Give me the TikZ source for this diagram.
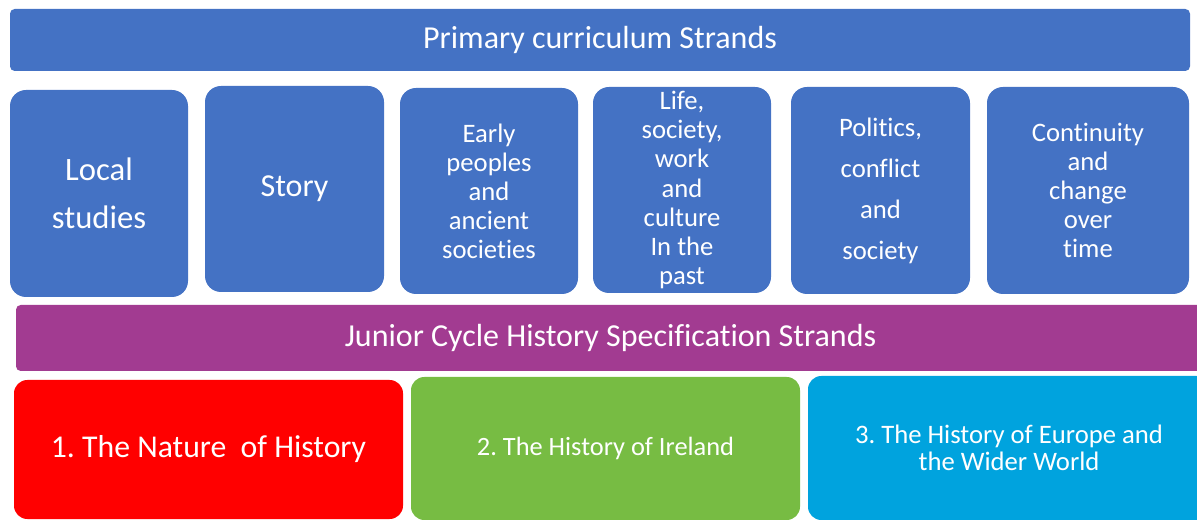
\documentclass[tikz,border=0pt]{standalone}
\usepackage{fontspec}
\setmainfont[Ligatures=NoCommon]{Carlito}
\frenchspacing
\definecolor{strandblue}{HTML}{4472C4}
\definecolor{jcpurple}{HTML}{A23B91}
\definecolor{natred}{HTML}{FF0000}
\definecolor{irlgreen}{HTML}{77BC43}
\definecolor{eurcyan}{HTML}{00A3DE}
\begin{document}
\begin{tikzpicture}[x=0.75pt,y=-0.75pt,
  blk/.style={rectangle, inner sep=0pt, text=white, align=center},
  pstrand/.style={blk, fill=strandblue, rounded corners=12pt, font=\fontsize{20}{21.8}\selectfont},
  bar/.style={blk, rounded corners=3.5pt},
  jcbox/.style={blk, rounded corners=10pt}]
\useasboundingbox (0,0) rectangle (1197,520);
\clip (0,0) rectangle (1197,520);
% primary curriculum header
\node[bar, fill=strandblue, minimum width=885pt, minimum height=46.5pt,
  font=\fontsize{24}{28}\selectfont] (prim) at (600,40) {Primary curriculum Strands};
% primary strands
\node[pstrand, minimum width=133.5pt, minimum height=155.25pt,
  font=\fontsize{24.5}{36}\selectfont] (local) at (99,193.5) {Local\\studies};
\node[pstrand, minimum width=134.25pt, minimum height=154.5pt,
  font=\fontsize{24}{36}\selectfont] (story) at (294.5,189) {Story};
\node[pstrand, minimum width=133.5pt, minimum height=154.5pt] (early) at (489,191)
  {Early\\peoples\\and\\ancient\\societies};
\node[pstrand, minimum width=133.5pt, minimum height=154.5pt] (life) at (682,190)
  {Life,\\society,\\work\\and\\culture\\In the\\past};
\node[pstrand, minimum width=134.25pt, minimum height=155.25pt,
  font=\fontsize{20}{30.8}\selectfont] (politics) at (880.5,190.5)
  {Politics,\\conflict\\and\\society};
\node[pstrand, minimum width=151.5pt, minimum height=155.25pt] (contin) at (1088,190.5)
  {Continuity\\and\\change\\over\\time};
% junior cycle header
\node[bar, fill=jcpurple, minimum width=891.75pt, minimum height=49.5pt,
  font=\fontsize{24}{28}\selectfont] (jc) at (610.5,338)
  {Junior Cycle History Specification Strands};
% junior cycle strands
\node[jcbox, fill=natred, minimum width=291.75pt, minimum height=104.25pt,
  font=\fontsize{23.8}{28}\selectfont] (nature) at (208.5,449.5)
  {1. The Nature\ \ of History};
\node[jcbox, fill=irlgreen, minimum width=291.75pt, minimum height=107.25pt,
  font=\fontsize{19.8}{24}\selectfont] (ireland) at (605.5,448.5)
  {2. The History of Ireland};
\node[jcbox, fill=eurcyan, minimum width=301.5pt, minimum height=108pt,
  font=\fontsize{20}{20.25}\selectfont] (europe) at (1009,448)
  {3. The History of Europe and\\the Wider World};
\end{tikzpicture}
\end{document}
